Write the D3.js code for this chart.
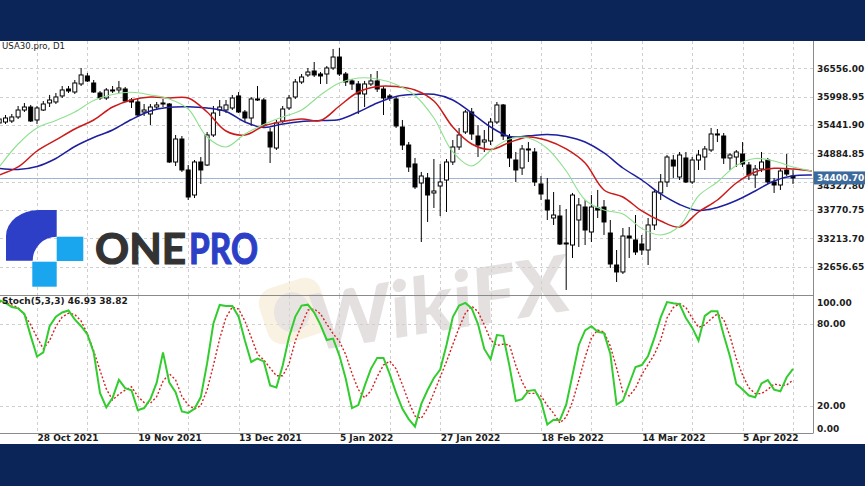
<!DOCTYPE html>
<html><head><meta charset="utf-8">
<script src="https://cdn.jsdelivr.net/npm/d3@7/dist/d3.min.js"></script>
<style>
html,body{margin:0;padding:0;background:#fff;}
svg{display:block;}
</style></head><body>
<svg id="c" width="865" height="486"></svg>
<script>
// ---- DATA (USA30.pro, D1) ----
const open  = [35481,35500,35520,35599,35736,35795,35540,35736,35874,35894,36012,36149,36090,36248,36405,36267,36071,35972,36130,36130,36149,35933,35894,35697,35658,35795,35854,35854,34714,35166,34557,34065,34714,34655,35245,35736,35736,35776,36012,35697,35579,35953,35933,35304,34989,35520,35776,35992,36287,36425,36503,36444,36444,36562,36778,36444,36307,36248,36051,36248,36307,36149,36012,35953,35402,35048,34675,34301,34400,34105,34242,34360,34714,35009,35304,35697,35225,35107,35127,35500,35835,35206,34753,34596,34970,34911,34282,33967,33613,33652,33122,33082,33574,33829,33338,33810,33829,33318,32689,32552,33259,33181,33102,32984,33476,34105,34321,34753,34419,34793,34321,34753,34812,34950,35265,35225,34793,34812,34871,34655,34459,34577,34753,34321,34262,34557,34439];
const high  = [35618,35638,35658,35815,35874,35835,35815,35913,36032,36071,36208,36208,36326,36562,36464,36326,36110,36169,36208,36307,36189,35972,35953,35854,35854,35894,35953,35874,35245,35225,34655,34753,34812,35304,35815,35933,35933,36032,36090,35736,35992,36208,35972,35383,35540,35815,36032,36346,36444,36562,36680,36483,36601,36936,36955,36483,36346,36307,36307,36444,36503,36208,36051,35992,35540,35107,34793,34518,34498,34773,34675,34773,35147,35383,35736,35776,35441,35343,35579,35894,35854,35265,34911,35048,35107,34989,34439,34400,34124,33869,33790,34105,34006,33967,34065,34164,33967,33574,32984,33417,33436,33672,33279,33613,34164,34478,34852,34852,34911,34911,34812,34950,35029,35383,35363,35284,34891,34950,35107,34714,34655,34911,34793,34400,34596,34871,34557];
const low   = [35422,35461,35481,35559,35697,35500,35461,35717,35795,35854,35972,36071,36051,36208,36287,36071,35933,35933,36071,36071,35894,35776,35599,35618,35441,35736,35795,34694,34635,34518,33967,34006,34282,34635,35206,35618,35677,35736,35677,35500,35422,35913,35402,34694,34950,35481,35736,35953,36248,36385,36385,36248,36248,36523,36405,36208,36130,35658,35795,36208,36090,35638,35913,35383,34950,34518,34183,33141,33535,33810,33652,33731,34655,34950,35265,35147,34812,34911,35048,35461,35147,34616,34321,34459,34714,34242,33967,33574,33476,33082,32198,32827,33043,33082,33141,33613,33279,32630,32355,32512,32827,32886,32886,32689,33377,33967,34223,34400,34360,34301,34282,34557,34557,34911,35107,34675,34557,34616,34616,34360,34203,34518,34282,34105,34164,34439,34282];
const close = [35559,35579,35599,35736,35795,35520,35776,35854,35933,35992,36130,36110,36267,36425,36307,36090,35972,36130,36110,36169,35913,35894,35638,35736,35795,35835,35874,34714,35166,34557,34026,34714,34557,35245,35677,35795,35835,35972,35697,35579,35953,35933,35441,35009,35481,35756,35972,36287,36385,36483,36425,36405,36562,36778,36444,36287,36248,36051,36248,36307,36149,35972,35972,35422,35048,34616,34223,34439,34065,34144,34321,34714,35009,35245,35697,35265,35048,35147,35500,35835,35225,34793,34557,34970,34950,34321,34085,33770,33672,33102,33102,34065,33869,33377,33829,33770,33535,32709,32552,33259,33220,32945,32984,33476,34124,34321,34812,34635,34852,34321,34753,34852,34970,35265,35245,34793,34852,34911,34675,34459,34577,34714,34321,34262,34537,34478,34400.70];

// Alligator lines (read every 3 bars, incl. forward shift)
const maIdx = [0,3,6,9,12,15,18,21,24,27,30,33,36,39,42,45,48,51,54,57,60,63,66,69,72,75,78,81,84,87,90,93,96,99,102,105,108,111,114,117,120,123,126,129];
const lips  = [34616,35068,35383,35530,35697,35923,36041,36084,36032,35953,35756,35206,35009,35265,35451,35599,35736,36032,36267,36366,36346,36238,36022,35579,34911,34635,34940,35166,35186,34980,34537,33967,33770,33692,33407,33279,33456,34046,34321,34645,34783,34734,34616,34537];
const teeth = [34459,34616,34930,35147,35363,35540,35795,35933,35992,35972,35972,35697,35324,35245,35422,35510,35559,35530,35815,36090,36198,36198,36130,35913,35402,35068,34960,35097,35206,35137,34970,34694,34164,34026,33751,33554,33436,33731,33967,34301,34518,34590,34577,34537];
const jaw   = [34590,34567,34626,34783,35019,35196,35343,35550,35717,35790,35801,35776,35707,35500,35392,35461,35510,35530,35550,35697,35874,36002,36041,36045,35933,35677,35402,35215,35229,35255,35215,35107,34891,34596,34360,34085,33879,33761,33820,33957,34144,34341,34443,34459];

// Stochastic (5,3,3)
const stochK = [97,95,92,91,87,71,56,59,78,85,88,89.5,83,78,72,59,29.5,19,26,39,33,31.5,17,18.5,25,37,59,37,30,16,15,18,26.5,51,80,93.5,92.7,92.7,85,67.6,52,54.5,52.4,35,33.5,49.5,70,85,93,93.7,88,79,68,69,56.7,40,18.5,20.7,34.5,47,55,55,43,29.5,18,10.5,5,21.5,31.6,40.4,46.5,64.4,84.7,93,95,91,79.6,61.5,54,71.6,71,49,23.6,25,31,31.6,23.6,6.5,10,9.8,21,42.5,64.4,75,78,74,73,58,21,24,36,48.4,49.8,56.4,69.5,84.4,95.6,94.7,94,84,77,67.6,85.5,89,89,71.6,56,36,32,27.6,26.4,36.4,38.9,31.9,30.7,40.9,46.93];
const stochD = [96,95,93.5,91.6,86.5,79,70,61.5,67.6,77.8,84.7,87.5,86.5,81.8,72.4,60,46,32.4,24.4,28.5,31.6,34,27,22.5,22,26.8,38,43.5,39,27,20.7,17.8,20.4,31.6,49.5,69,84.4,92,90.5,81.8,70,57.8,53.5,47.6,42,42,50.5,67.3,79,89.8,90.5,87,79.6,72.6,67,57.5,43.6,32,26,31,41.3,49.8,52.7,47,35.4,23,12.7,11,18.5,29.6,41,52.4,64.7,77,87.5,92.7,88.5,79,68,64,65,64.4,49.5,37.5,29.2,29.2,27.3,20.4,14.7,7.6,12,23,38.7,55.4,69.5,75.3,73.8,63.6,47.6,30,27.3,33,42.9,50.2,57.5,68,84,91.6,94.5,91.6,84,77.2,78.9,83.4,87,83,70.9,54.5,42.5,33.2,29,29,32,36,35,35.3,38.82];

const priceTicks = [36556.00,35998.95,35441.90,34884.85,34327.80,33770.75,33213.70,32656.65];
const stochTicks = [100,80,20,0];
const dateTickIdx = [6,22,38,54,70,86,102,118];
const dateTickLabels = ["28 Oct 2021","19 Nov 2021","13 Dec 2021","5 Jan 2022","27 Jan 2022","18 Feb 2022","14 Mar 2022","5 Apr 2022"];
const gridIdx = [6,14,22,30,38,46,54,62,70,78,86,94,102,110,118,126];
const lastPrice = 34400.70;
const titleText = "USA30.pro, D1";
const stochText = "Stoch(5,3,3) 46.93 38.82";

// ---- LAYOUT ----
const svg = d3.select("#c");
const navy = "#0b2558";
const plotR = 813, mainTop = 41, mainBot = 295, stTop = 296, stBot = 433.5;
const x  = d3.scaleLinear().domain([0,126]).range([-0.8,793]);
const y  = d3.scaleLinear().domain([32656.65,36556.00]).range([266.65,68.3]);
const ys = d3.scaleLinear().domain([0,100]).range([stBot,stTop]);

svg.append("rect").attr("width",865).attr("height",486).attr("fill","#fff");

const defs = svg.append("defs");
defs.append("clipPath").attr("id","cm").append("rect").attr("x",0).attr("y",mainTop).attr("width",plotR).attr("height",mainBot-mainTop);
defs.append("clipPath").attr("id","cs").append("rect").attr("x",0).attr("y",stTop).attr("width",plotR).attr("height",stBot-stTop);

const gridCol = "#cfcfcf";
const grid = svg.append("g").attr("stroke",gridCol).attr("stroke-dasharray","3,3").attr("stroke-width",1);
grid.selectAll(".gh").data(priceTicks).join("line")
  .attr("x1",0).attr("x2",plotR).attr("y1",d=>Math.round(y(d))+0.5).attr("y2",d=>Math.round(y(d))+0.5);
grid.selectAll(".gv").data(gridIdx).join("line")
  .attr("x1",d=>Math.round(x(d))+0.5).attr("x2",d=>Math.round(x(d))+0.5).attr("y1",mainTop).attr("y2",mainBot);
grid.selectAll(".gv2").data(gridIdx).join("line")
  .attr("x1",d=>Math.round(x(d))+0.5).attr("x2",d=>Math.round(x(d))+0.5).attr("y1",stTop).attr("y2",stBot);
grid.selectAll(".gs").data([80,20]).join("line")
  .attr("x1",0).attr("x2",plotR).attr("y1",d=>Math.round(ys(d))+0.5).attr("y2",d=>Math.round(ys(d))+0.5);

// watermark (WikiFX)
const wm = svg.append("g").attr("opacity",0.6);
wm.append("rect").attr("x",262).attr("y",282).attr("width",64).attr("height",58).attr("rx",16)
  .attr("fill","#f6ebcf").attr("transform","rotate(-18 294 311)");
wm.append("ellipse").attr("cx",292).attr("cy",312).attr("rx",18).attr("ry",20).attr("fill","#d9d3cf");
wm.append("text").attr("x",470).attr("y",326).attr("text-anchor","middle")
  .attr("font-family","Lato, 'DejaVu Sans', sans-serif").attr("font-weight",900).attr("font-size",78)
  .attr("fill","#d4cdcd").attr("transform","rotate(-9 470 300) skewX(-6)").text("WikiFX");

// ONEPRO logo
const logo = svg.append("g");
logo.append("path").attr("fill","#2c3fc6")
  .attr("d","M6,260.7 L6,236 A33 26 0 0 1 39,210 L56.7,210 L56.7,236.7 A24 24 0 0 0 32.7,260.7 Z");
logo.append("rect").attr("x",56.7).attr("y",236.7).attr("width",26.6).attr("height",24.3).attr("fill","#19a6ee");
logo.append("rect").attr("x",32.3).attr("y",261.7).attr("width",24.4).attr("height",25).attr("fill","#19a6ee");
logo.append("text").attr("x",95).attr("y",263.5).attr("font-family","Lato, Inter, sans-serif").attr("font-weight",700)
  .attr("font-size",42).attr("fill","#333333").attr("stroke","#333333").attr("stroke-width",1.2)
  .attr("textLength",91).attr("lengthAdjust","spacingAndGlyphs").text("ONE");
logo.append("text").attr("x",189).attr("y",263.5).attr("font-family","Lato, Inter, sans-serif").attr("font-weight",700)
  .attr("font-size",42).attr("fill","#2c3fc6").attr("stroke","#2c3fc6").attr("stroke-width",1.2)
  .attr("textLength",69).attr("lengthAdjust","spacingAndGlyphs").text("PRO");

// last price line
svg.append("line").attr("x1",0).attr("x2",plotR).attr("y1",Math.round(y(lastPrice))+0.5).attr("y2",Math.round(y(lastPrice))+0.5)
  .attr("stroke","#9fb4d6").attr("stroke-width",1);

// candles
const main = svg.append("g").attr("clip-path","url(#cm)");
const idx = d3.range(open.length);
main.selectAll(".wick").data(idx).join("line")
  .attr("x1",i=>x(i)).attr("x2",i=>x(i)).attr("y1",i=>y(high[i])).attr("y2",i=>y(low[i]))
  .attr("stroke","#000").attr("stroke-width",1);
main.selectAll(".body").data(idx).join("rect")
  .attr("x",i=>x(i)-2).attr("width",4)
  .attr("y",i=>y(Math.max(open[i],close[i])))
  .attr("height",i=>Math.max(0.8,Math.abs(y(open[i])-y(close[i]))))
  .attr("fill",i=>close[i]>=open[i]?"#fff":"#000")
  .attr("stroke","#000").attr("stroke-width",1);

// alligator
const maLine = d3.line().x((d,k)=>x(maIdx[k])).y(d=>y(d)).curve(d3.curveCatmullRom.alpha(0.5));
main.append("path").attr("d",maLine(jaw)).attr("fill","none").attr("stroke","#1d1f9e").attr("stroke-width",1.5);
main.append("path").attr("d",maLine(teeth)).attr("fill","none").attr("stroke","#cc1a1a").attr("stroke-width",1.5);
main.append("path").attr("d",maLine(lips)).attr("fill","none").attr("stroke","#8fe08f").attr("stroke-width",1.1);

// stochastic
const st = svg.append("g").attr("clip-path","url(#cs)");
const sLine = d3.line().x((d,i)=>x(i)).y(d=>ys(d));
st.append("path").attr("d",sLine(stochD)).attr("fill","none").attr("stroke","#d42222").attr("stroke-width",1.4).attr("stroke-dasharray","2,2");
st.append("path").attr("d",sLine(stochK)).attr("fill","none").attr("stroke","#33cc2e").attr("stroke-width",2);

// frames
const frame = svg.append("g").attr("stroke","#8a8a8a").attr("stroke-width",1);
frame.append("line").attr("x1",0).attr("x2",plotR).attr("y1",295.5).attr("y2",295.5);
frame.append("line").attr("x1",0).attr("x2",plotR).attr("y1",433.5).attr("y2",433.5);
frame.append("line").attr("x1",plotR+0.5).attr("x2",plotR+0.5).attr("y1",mainTop).attr("y2",433.5);

const axFont = "'DejaVu Sans', Verdana, sans-serif";
// price axis
const pAx = svg.append("g").attr("transform",`translate(${plotR+1},0)`)
  .call(d3.axisRight(y).tickValues(priceTicks).tickFormat(d3.format(".2f")).tickSize(0).tickPadding(3));
pAx.select(".domain").remove();
pAx.selectAll("text").attr("font-family",axFont).attr("font-weight","bold").attr("font-size",9).attr("fill","#1c1c1c")
  .attr("dy",d=>d===34327.80?"0.75em":"0.32em");

// stoch axis
const sAx = svg.append("g").attr("transform",`translate(${plotR+1},0)`)
  .call(d3.axisRight(ys).tickValues(stochTicks).tickFormat(d3.format(".2f")).tickSize(0).tickPadding(3));
sAx.select(".domain").remove();
sAx.selectAll("text").attr("font-family",axFont).attr("font-weight","bold").attr("font-size",9).attr("fill","#1c1c1c")
  .attr("dy",d=>d===100?"1.0em":(d===0?"-0.2em":"0.32em"));

// date axis
const dAx = svg.append("g").attr("transform",`translate(0,${stBot})`)
  .call(d3.axisBottom(x).tickValues(dateTickIdx).tickFormat((d,i)=>dateTickLabels[i]).tickSize(0).tickPadding(0));
dAx.select(".domain").remove();
dAx.selectAll("text").attr("text-anchor","start").attr("y",1).attr("dy","0.71em")
  .attr("font-family",axFont).attr("font-weight","bold").attr("font-size",9).attr("fill","#1c1c1c");

// last price label
const ly = y(lastPrice);
svg.append("rect").attr("x",plotR+1).attr("y",ly-6.5).attr("width",865-plotR-1).attr("height",13).attr("fill","#3b6b9c");
svg.append("text").attr("x",plotR+4).attr("y",ly).attr("dy","0.35em").attr("font-family",axFont).attr("font-weight","bold")
  .attr("font-size",9).attr("fill","#fff").text(d3.format(".2f")(lastPrice));

// titles
svg.append("text").attr("x",2).attr("y",49).attr("font-family",axFont).attr("font-size",8.6).attr("fill","#1c1c1c").text(titleText);
svg.append("text").attr("x",2).attr("y",304).attr("font-family",axFont).attr("font-weight","bold").attr("font-size",9).attr("fill","#1c1c1c").text(stochText);

// navy bands
svg.append("rect").attr("x",0).attr("y",0).attr("width",865).attr("height",mainTop).attr("fill",navy);
svg.append("rect").attr("x",0).attr("y",444).attr("width",865).attr("height",42).attr("fill",navy);
</script>
</body></html>
